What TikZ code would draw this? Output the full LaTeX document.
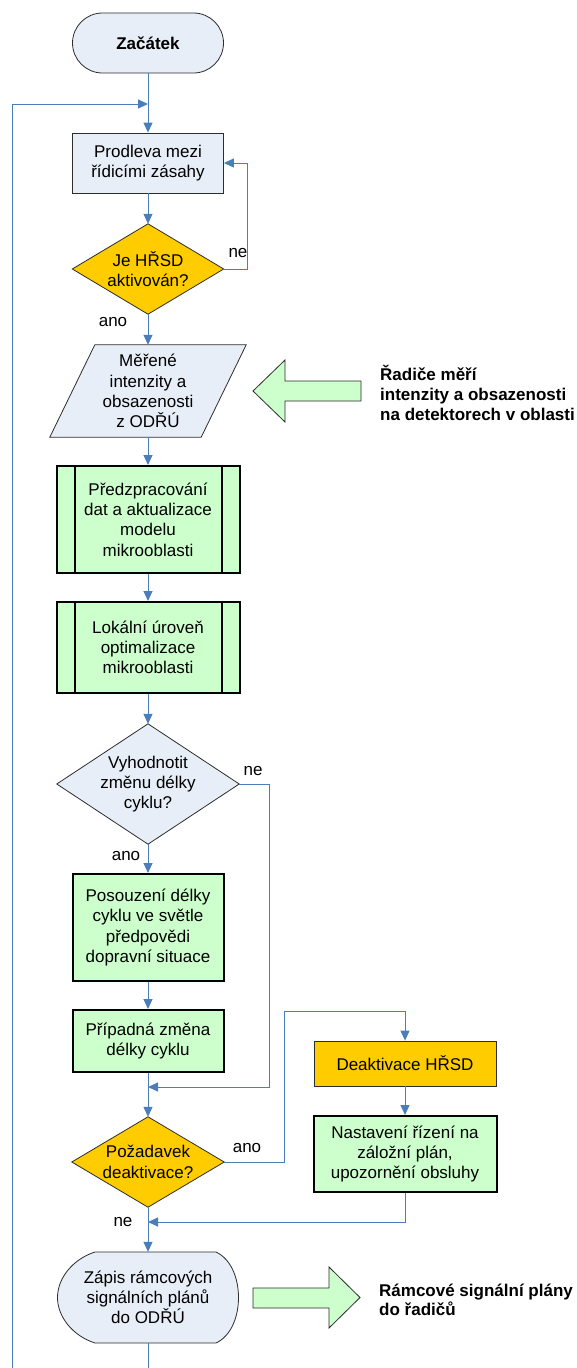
\documentclass[tikz,border=0pt]{standalone}
\usepackage{fontspec}
\setmainfont{Liberation Sans}
\usetikzlibrary{arrows.meta,backgrounds}

\definecolor{flowline}{RGB}{74,126,187}
\definecolor{paleblue}{RGB}{232,238,247}
\definecolor{amber}{RGB}{255,204,0}
\definecolor{mint}{RGB}{204,255,204}
\definecolor{edge}{RGB}{45,45,45}

\newcommand{\flowfont}{\fontsize{17}{20.3}\selectfont}

\begin{document}
\begin{tikzpicture}[x=1pt,y=-1pt,
  txt/.style={font=\flowfont, align=center, inner sep=0pt},
  thinbox/.style={txt, draw=edge, line width=0.8pt},
  thickbox/.style={txt, draw=black, line width=2pt, fill=mint},
  holder/.style={txt},
  conn/.style={draw=flowline, line width=1pt, -{Triangle[length=10pt,width=9pt]}},
  wire/.style={draw=flowline, line width=1pt},
  outline/.style={draw=edge, line width=0.8pt},
  tag/.style={font=\flowfont, inner sep=0pt},
  note/.style={font=\flowfont\bfseries, align=left, inner sep=0pt, anchor=west},
  block/.style={draw=edge, line width=0.8pt, fill=mint}
]
\useasboundingbox (0,0) rectangle (577,1368);

% ---------- main column ----------
\node[thinbox, fill=paleblue, rounded corners=30pt, minimum width=151pt,
      minimum height=60pt, font=\flowfont\bfseries] (start) at (148,43) {Začátek};
\node[thinbox, fill=paleblue, minimum width=151pt, minimum height=60pt]
      (delay) at (148,163) {Prodleva mezi\\řídicími zásahy};
\node[holder, minimum width=151pt, minimum height=90pt]
      (active) at (148,269) {Je HŘSD\\aktivován?};
\node[holder, minimum width=196pt, minimum height=92pt]
      (meas) at (148,391) {Měřené\\intenzity a\\obsazenosti\\z ODŘÚ};
\node[thickbox, minimum width=183pt, minimum height=107pt]
      (prep) at (148,519.5) {Předzpracování\\dat a aktualizace\\modelu\\mikrooblasti};
\node[thickbox, minimum width=183pt, minimum height=91pt]
      (local) at (148,647.5) {Lokální úroveň\\optimalizace\\mikrooblasti};
\node[holder, minimum width=182pt, minimum height=120pt]
      (eval) at (148,784) {Vyhodnotit\\změnu délky\\cyklu?};
\node[thickbox, minimum width=151pt, minimum height=107pt]
      (assess) at (148,927.5) {Posouzení délky\\cyklu ve světle\\předpovědi\\dopravní situace};
\node[thickbox, minimum width=151pt, minimum height=62pt]
      (change) at (148,1041) {Případná změna\\délky cyklu};
\node[holder, minimum width=152pt, minimum height=90pt]
      (request) at (148,1162) {Požadavek\\deaktivace?};
\node[holder, minimum width=181pt, minimum height=91pt]
      (write) at (148,1297.5) {Zápis rámcových\\signálních plánů\\do ODŘÚ};

% ---------- side column ----------
\node[thinbox, fill=amber, minimum width=182pt, minimum height=45pt]
      (deact) at (405,1063.5) {Deaktivace HŘSD};
\node[thickbox, minimum width=183pt, minimum height=76pt]
      (backup) at (405,1154) {Nastavení řízení na\\záložní plán,\\upozornění obsluhy};

% side bars of the predefined-process boxes
\foreach \n in {prep,local}{
  \draw[black, line width=2pt] ([xshift=19pt]\n.north west) -- ([xshift=19pt]\n.south west);
  \draw[black, line width=2pt] ([xshift=-19pt]\n.north east) -- ([xshift=-19pt]\n.south east);
}

% ---------- block arrows and their captions ----------
\path[block] (253,391) -- (285,360) -- (285,381) -- (361,381) -- (361,401)
  -- (285,401) -- (285,422) -- cycle;
\node[note] (inflow) at (380,393) {Řadiče měří\\intenzity a obsazenosti\\na detektorech v oblasti};
\path[block] (253,1288) -- (329,1288) -- (329,1267) -- (360,1297.5) -- (329,1328)
  -- (329,1308) -- (253,1308) -- cycle;
\node[note, font=\fontsize{17}{19.5}\selectfont\bfseries] (outflow) at (379,1300)
  {Rámcové signální plány\\do řadičů};

% ---------- branch labels ----------
\node[tag] (ne1) at (238,253) {ne};
\node[tag] (ano1) at (113,322) {ano};
\node[tag] (ne2) at (253,771) {ne};
\node[tag] (ano2) at (126,856) {ano};
\node[tag] (ano3) at (247,1148) {ano};
\node[tag] (ne3) at (123,1222) {ne};

% ---------- junction points ----------
\coordinate (loopfoot) at (12,1368);
\coordinate (loopin) at (148,104);
\coordinate (merge1) at (148,1087);
\coordinate (deactin) at (405,1011);
\coordinate (merge2) at (148,1222);
\coordinate (exit) at (148,1368);

% ---------- connectors ----------
\draw[conn] (start) -- (delay);
\draw[conn] (loopfoot) |- (loopin);
\draw[conn] (delay) -- (active);
\draw[conn] (active.east) -- ++(24,0) |- (delay.east);
\draw[conn] (active) -- (meas);
\draw[conn] (meas) -- (prep);
\draw[conn] (prep) -- (local);
\draw[conn] (local) -- (eval);
\draw[conn] (eval) -- (assess);
\draw[conn] (assess) -- (change);
\draw[conn] (eval.east) -- ++(30,0) |- (merge1);
\draw[conn] (change) -- (request);
\draw[conn] (request.east) -- ++(60,0) |- (deactin) -- (deact.north);
\draw[conn] (deact) -- (backup);
\draw[conn] (backup.south) |- (merge2);
\draw[conn] (request) -- (write);
\draw[wire] (write) -- (exit);

% ---------- shape outlines behind the texts ----------
\begin{scope}[on background layer]
  \fill[white] (0,0) rectangle (577,1368);
  \path[outline, fill=amber] (active.north) -- (active.east) -- (active.south)
    -- (active.west) -- cycle;
  \path[outline, fill=paleblue] ([xshift=45pt]meas.north west) -- (meas.north east)
    -- ([xshift=-45pt]meas.south east) -- (meas.south west) -- cycle;
  \path[outline, fill=paleblue] (eval.north) -- (eval.east) -- (eval.south)
    -- (eval.west) -- cycle;
  \path[outline, fill=amber] (request.north) -- (request.east) -- (request.south)
    -- (request.west) -- cycle;
  \path[outline, fill=paleblue] (95,1252) -- (216,1252)
    .. controls (231,1259) and (238.5,1278) .. (238.5,1297.5)
    .. controls (238.5,1317) and (231,1336) .. (216,1343)
    -- (95,1343)
    .. controls (73,1336) and (57.5,1317) .. (57.5,1297.5)
    .. controls (57.5,1278) and (73,1259) .. (95,1252) -- cycle;
\end{scope}
\end{tikzpicture}
\end{document}
